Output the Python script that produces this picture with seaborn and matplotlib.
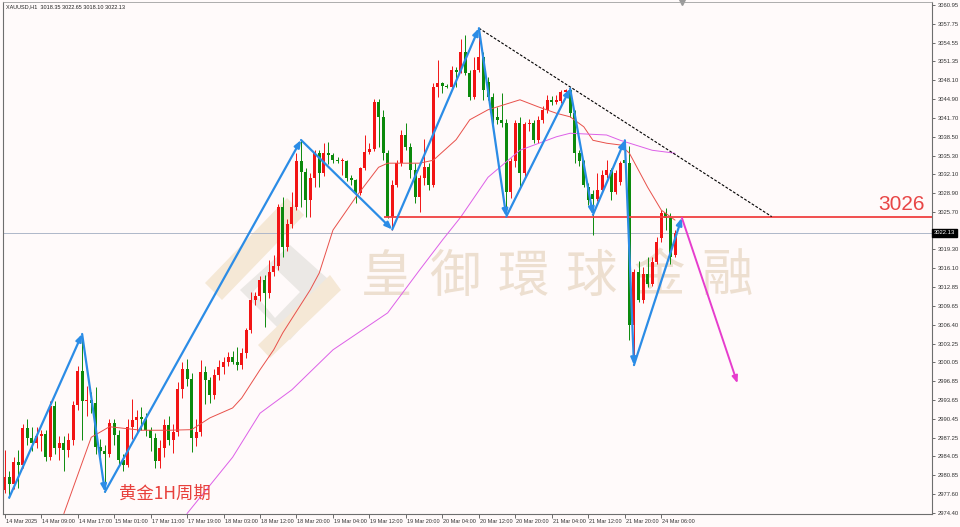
import numpy as np
import pandas as pd
import matplotlib
matplotlib.use("Agg")
import matplotlib.pyplot as plt
import matplotlib.transforms as mtransforms
from matplotlib.patches import Polygon
import seaborn as sns

# DATA  (XAUUSD H1)

opens = [2978.3, 2980.6, 2979.4, 2983.1, 2982.6, 2988.8, 2987.1, 2986.3, 2987.5, 2987.9,
         2984.0, 2992.6, 2985.4, 2986.3, 2985.2, 2986.8, 2992.8, 2998.6, 2993.4, 2993.7,
         2993.2, 2985.7, 2985.0, 2984.4, 2989.7, 2987.7, 2983.4, 2982.6, 2989.0, 2990.2,
         2990.8, 2990.4, 2988.5, 2987.1, 2983.2, 2985.4, 2989.4, 2986.8, 2988.2, 2995.6,
         2998.9, 2997.3, 2987.1, 2988.2, 2998.5, 2997.0, 2994.5, 2997.9, 2999.3, 3000.2,
         3001.0, 3000.2, 2999.6, 3001.6, 3005.6, 3010.7, 3011.3, 3014.1, 3011.8, 3015.5,
         3016.4, 3026.6, 3019.8, 3023.7, 3026.6, 3034.3, 3032.5, 3027.7, 3031.4, 3035.7,
         3032.3, 3035.7, 3035.4, 3034.6, 3034.3, 3034.4, 3031.4, 3031.1, 3028.9, 3033.1,
         3035.95, 3036.5, 3044.5, 3041.9, 3035.7, 3024.9, 3030.3, 3034.0, 3038.8, 3036.8,
         3032.8, 3028.3, 3031.4, 3033.4, 3030.3, 3047.0, 3047.6, 3047.2, 3047.0, 3049.9,
         3049.6, 3053.0, 3049.3, 3045.3, 3049.9, 3052.1, 3047.9, 3045.3, 3041.9, 3041.3,
         3040.8, 3029.1, 3034.3, 3040.8, 3032.3, 3040.6, 3040.9, 3038.0, 3041.3, 3043.1,
         3044.8, 3044.5, 3044.6, 3046.2, 3046.5, 3042.5, 3035.7, 3034.3, 3029.9, 3028.8,
         3027.9, 3029.4, 3032.0, 3032.8, 3029.1, 3030.8, 3034.5, 3034.0, 3006.4, 3015.5,
         3010.7, 3015.2, 3013.5, 3017.2, 3021.2, 3025.5, 3024.6, 3018.35]
highs = [2985.1, 2981.5, 2984.0, 2985.2, 2989.5, 2990.5, 2989.0, 2989.0, 2988.5, 2988.5,
         2993.5, 2993.4, 2987.5, 2987.5, 2988.0, 2993.5, 2999.5, 3004.8, 2996.0, 2995.0,
         2995.9, 2987.0, 2986.0, 2990.5, 2990.5, 2988.5, 2984.5, 2990.5, 2993.8, 2992.0,
         2992.5, 2991.5, 2989.0, 2988.0, 2986.8, 2990.5, 2991.0, 2989.5, 2996.8, 3000.2,
         3000.7, 2998.3, 2990.5, 3000.5, 2999.5, 2997.5, 2999.0, 3000.5, 3001.0, 3001.9,
         3002.0, 3002.7, 3002.5, 3006.0, 3012.1, 3012.0, 3014.7, 3015.0, 3017.5, 3018.3,
         3027.0, 3028.3, 3024.5, 3029.1, 3035.7, 3037.95, 3033.2, 3032.3, 3036.2, 3036.2,
         3037.4, 3037.6, 3035.7, 3035.0, 3034.8, 3034.6, 3032.0, 3031.3, 3033.4, 3038.8,
         3037.4, 3045.0, 3044.9, 3043.0, 3036.3, 3031.2, 3034.5, 3039.6, 3040.8, 3037.4,
         3034.0, 3032.0, 3038.2, 3034.0, 3047.6, 3051.6, 3047.9, 3047.5, 3050.5, 3050.4,
         3055.2, 3055.8, 3049.8, 3052.1, 3057.0, 3053.0, 3048.7, 3046.0, 3043.5, 3045.9,
         3041.5, 3034.8, 3041.4, 3041.9, 3041.0, 3041.5, 3041.3, 3042.0, 3043.8, 3045.6,
         3045.4, 3045.6, 3046.5, 3046.6, 3046.7, 3043.0, 3036.2, 3034.6, 3030.6, 3029.5,
         3032.3, 3032.8, 3034.5, 3033.2, 3032.8, 3034.3, 3037.9, 3037.0, 3016.0, 3017.4,
         3016.3, 3018.1, 3018.1, 3021.5, 3026.0, 3026.3, 3025.5, 3022.65]
lows = [2977.8, 2977.0, 2978.5, 2978.6, 2982.0, 2986.0, 2985.0, 2985.5, 2985.0, 2983.2,
        2983.5, 2984.5, 2983.5, 2981.5, 2984.0, 2986.0, 2992.0, 2986.8, 2991.0, 2991.5,
        2984.5, 2983.0, 2978.0, 2984.0, 2986.0, 2982.8, 2981.5, 2982.3, 2987.0, 2988.0,
        2988.5, 2987.5, 2985.0, 2982.0, 2982.0, 2984.0, 2986.0, 2984.6, 2987.5, 2994.0,
        2996.0, 2984.8, 2985.8, 2987.5, 2993.0, 2993.1, 2993.9, 2997.0, 2998.0, 2999.5,
        2999.8, 2998.8, 2999.0, 3000.8, 3005.0, 3009.8, 3010.5, 3006.1, 3011.0, 3014.8,
        3015.8, 3018.1, 3019.0, 3023.0, 3026.0, 3026.6, 3024.9, 3024.9, 3030.0, 3030.0,
        3031.8, 3033.9, 3034.0, 3034.0, 3032.0, 3031.0, 3030.3, 3027.2, 3028.5, 3032.8,
        3035.5, 3036.0, 3036.8, 3034.5, 3024.6, 3022.7, 3029.9, 3033.5, 3036.3, 3031.5,
        3027.2, 3025.7, 3030.3, 3029.4, 3030.0, 3045.3, 3045.9, 3046.8, 3046.8, 3047.0,
        3049.3, 3049.0, 3044.7, 3045.0, 3049.5, 3044.8, 3044.8, 3040.6, 3040.7, 3040.2,
        3024.9, 3028.0, 3033.4, 3030.0, 3031.5, 3039.5, 3037.4, 3037.5, 3040.8, 3042.6,
        3043.9, 3044.0, 3044.2, 3045.5, 3041.8, 3034.0, 3033.5, 3029.9, 3026.9, 3021.8,
        3027.5, 3029.0, 3031.5, 3027.7, 3028.8, 3030.2, 3033.6, 3003.9, 2999.6, 3010.4,
        3010.2, 3012.9, 3013.0, 3016.9, 3020.5, 3022.6, 3016.9, 3018.10]
closes = [2980.6, 2979.4, 2983.1, 2982.6, 2988.8, 2987.1, 2986.3, 2987.5, 2987.9, 2984.0,
          2992.6, 2985.4, 2986.3, 2985.2, 2986.8, 2992.8, 2998.6, 2993.4, 2993.7, 2993.2,
          2985.7, 2985.0, 2984.4, 2989.7, 2987.7, 2983.4, 2982.6, 2989.0, 2990.2, 2990.8,
          2990.4, 2988.5, 2987.1, 2983.2, 2985.4, 2989.4, 2986.8, 2988.2, 2995.6, 2998.9,
          2997.3, 2987.1, 2988.2, 2998.5, 2997.0, 2994.5, 2997.9, 2999.3, 3000.2, 3001.0,
          3000.2, 2999.6, 3001.6, 3005.6, 3010.7, 3011.3, 3014.1, 3011.8, 3015.5, 3016.4,
          3026.6, 3019.8, 3023.7, 3026.6, 3034.3, 3032.5, 3027.7, 3031.4, 3035.7, 3032.3,
          3035.7, 3035.4, 3034.6, 3034.3, 3034.4, 3031.4, 3031.1, 3028.9, 3033.1, 3035.95,
          3036.5, 3044.5, 3041.9, 3035.7, 3024.9, 3030.3, 3034.0, 3038.8, 3036.8, 3032.8,
          3028.3, 3031.4, 3033.4, 3030.3, 3047.0, 3047.6, 3047.2, 3047.0, 3049.9, 3049.6,
          3053.0, 3049.3, 3045.3, 3049.9, 3052.1, 3046.5, 3045.3, 3041.9, 3041.3, 3040.8,
          3029.1, 3034.3, 3040.8, 3032.3, 3040.6, 3040.9, 3038.0, 3041.3, 3043.1, 3044.8,
          3044.5, 3044.6, 3046.2, 3046.5, 3042.5, 3035.7, 3034.3, 3030.3, 3027.7, 3027.9,
          3029.4, 3032.0, 3032.8, 3029.1, 3032.3, 3034.0, 3034.0, 3006.4, 3015.5, 3010.7,
          3015.2, 3013.5, 3017.2, 3020.6, 3025.5, 3024.6, 3018.1, 3022.13]

# moving averages (red = fast, magenta = slow), read at these bars
ma_fast_bar = [13, 19, 23, 30, 36, 41, 45, 50, 52, 56, 59, 61, 67, 69, 72, 77, 82, 84, 91,
               94, 99, 102, 106, 113, 117, 121, 124, 127, 129, 132, 135, 137, 141, 144, 147]
ma_fast_val = [2974.3, 2987.3, 2989.1, 2988.5, 2988.5, 2988.6, 2990.6, 2992.3, 2994.0, 2998.8,
               3002.2, 3005.1, 3012.4, 3015.3, 3022.6, 3028.2, 3033.3, 3034.0, 3034.0, 3034.5,
               3038.0, 3041.4, 3043.1, 3044.8, 3043.6, 3042.5, 3041.9, 3040.2, 3037.9, 3037.4,
               3037.1, 3035.7, 3029.9, 3026.0, 3024.3]
ma_slow_bar = [40, 50, 56, 63, 72, 84, 91, 96, 100, 106, 113, 121, 124, 132, 135, 142, 147]
ma_slow_val = [2974.3, 2983.9, 2991.4, 2995.4, 3002.2, 3008.5, 3015.8, 3020.9, 3024.8,
               3031.6, 3036.2, 3038.5, 3039.1, 3038.8, 3037.9, 3036.2, 3035.7]

# hand drawn objects
zz_bar = [1, 17, 22, 65, 85, 104, 110, 124, 129, 136, 138, 148.5]
zz_val = [2977.0, 3004.9, 2978.0, 3037.95, 3022.7, 3057.0, 3024.9, 3046.7, 3025.2, 3037.9,
          2999.6, 3024.7]
trend_bar = [104, 168.2]
trend_val = [3057.0, 3024.9]
proj_bar = [148.5, 160.7]
proj_val = [3024.7, 2996.5]
level_val = 3024.9
level_start = 83.3
last_price = 3022.13

xtick_bars = [0, 8, 16, 24, 32, 40, 48, 56, 64, 72, 80, 88, 96, 104, 112, 120, 128, 136, 144]
xtick_labels = ["14 Mar 2025", "14 Mar 09:00", "14 Mar 17:00", "15 Mar 01:00", "17 Mar 11:00",
                "17 Mar 19:00", "18 Mar 03:00", "18 Mar 12:00", "18 Mar 20:00", "19 Mar 04:00",
                "19 Mar 12:00", "19 Mar 20:00", "20 Mar 04:00", "20 Mar 12:00", "20 Mar 20:00",
                "21 Mar 04:00", "21 Mar 12:00", "21 Mar 20:00", "24 Mar 06:00"]
ytick_labels = ["3060.95", "3057.75", "3054.55", "3051.35", "3048.10", "3044.90", "3041.70",
                "3038.50", "3035.30", "3032.10", "3028.90", "3025.70", "3019.30", "3016.10",
                "3012.85", "3009.65", "3006.40", "3003.25", "3000.05", "2996.85", "2993.65",
                "2990.45", "2987.25", "2984.05", "2980.85", "2977.60", "2974.40"]

# PLOT

sns.set_theme(style="white")
plt.rcParams['font.family'] = ['Liberation Sans', 'DejaVu Sans']

BG = '#fffafa'
UP = '#f21414'
DOWN = '#0c8a0c'
BLUE = '#2b8ce6'

W, H = 960, 527
fig = plt.figure(figsize=(9.6, 5.27), dpi=100, facecolor=BG)
ax = fig.add_axes([3 / W, 13 / H, 929 / W, 512 / H])
ax.set_facecolor(BG)
ax.set_xlim(-0.35, 203.35)
ax.set_ylim(2974.23, 3061.46)


def px(x, y):
    return (x / W, 1 - y / H)


# watermark logo + text
for pts, col in [([(205, 283), (287, 198), (304, 215), (222, 300)], '#f5e8d6'),
                 ([(240, 290), (290, 245), (337, 287), (290, 340)], '#ebe8e5'),
                 ([(253, 292), (275, 268), (300, 292), (275, 318)], BG),
                 ([(258, 345), (330, 275), (341, 290), (270, 358)], '#f5e8d6')]:
    ax.add_patch(Polygon([px(*p) for p in pts], closed=True, transform=fig.transFigure,
                         fc=col, ec='none', zorder=0.3))
for i, ch in enumerate("皇御環球金融"):
    ax.text(*px(387 + 68 * i, 277), ch, transform=fig.transFigure, ha='center', va='center',
            fontsize=37, color='#eddfd0', family=['Noto Sans CJK TC'], zorder=0.4)

# candles
df = pd.DataFrame({'o': opens, 'h': highs, 'l': lows, 'c': closes})
df['bar'] = np.arange(len(df))
up = df['c'] >= df['o']
cols = np.where(up, UP, DOWN)
ax.vlines(df['bar'], df['l'], df['h'], colors=cols, lw=0.7, zorder=2)
body = (df['c'] - df['o']).abs().clip(lower=0.18)
ax.bar(df['bar'], body, bottom=np.minimum(df['o'], df['c']), width=0.66, color=cols,
       lw=0, zorder=2.5)

# moving averages
sns.lineplot(x=ma_fast_bar, y=ma_fast_val, color='#e8504a', lw=0.7, ax=ax, zorder=3)
sns.lineplot(x=ma_slow_bar, y=ma_slow_val, color='#dd5fe8', lw=0.7, ax=ax, zorder=3)

# lines
ax.axhline(last_price, color='#aeb7c9', lw=0.7, zorder=1.5)
ax.hlines(level_val, level_start, ax.get_xlim()[1], color='#f04040', lw=1.3, zorder=3.5)
ax.plot(trend_bar, trend_val, color='black', lw=0.8, ls=(0, (2.5, 1.5)), zorder=3.5)

for i in range(len(zz_bar) - 1):
    ax.annotate('', xy=(zz_bar[i + 1], zz_val[i + 1]), xytext=(zz_bar[i], zz_val[i]),
                arrowprops=dict(arrowstyle='-|>,head_length=0.35,head_width=0.14', color=BLUE,
                                lw=1.6, shrinkA=0, shrinkB=0), zorder=4)
ax.annotate('', xy=(proj_bar[1], proj_val[1]), xytext=(proj_bar[0], proj_val[0]),
            arrowprops=dict(arrowstyle='-|>,head_length=0.35,head_width=0.14', color='#e63ccd',
                            lw=1.4, shrinkA=0, shrinkB=0), zorder=4)

# texts
ax.text(*px(925, 210), "3026", transform=fig.transFigure, ha='right', va='baseline',
        fontsize=15, color='#e84646', zorder=5)
ax.text(*px(119, 494), "黄金1H周期", transform=fig.transFigure, ha='left', va='center',
        fontsize=12.5, color='#e8403c', family=['Noto Sans CJK SC', 'DejaVu Sans'], zorder=5)
ax.text(*px(6, 7), "XAUUSD,H1  3018.35 3022.65 3018.10 3022.13", transform=fig.transFigure,
        ha='left', va='center', fontsize=4, color='#222222', zorder=5)

# axes styling
ax.yaxis.tick_right()
ax.set_yticks([float(v) for v in ytick_labels])
ax.set_yticklabels(ytick_labels)
ax.set_xticks(xtick_bars)
ax.set_xticklabels(xtick_labels)
ax.tick_params(axis='y', length=2.5, width=0.5, pad=1.5, labelsize=4.2, colors='#333333',
               right=True, left=False)
ax.tick_params(axis='x', length=3, width=0.5, pad=0.5, labelsize=4, colors='#333333',
               bottom=True)
offset = mtransforms.ScaledTranslation(1 / 100, 0, fig.dpi_scale_trans)
for lbl in ax.get_xticklabels():
    lbl.set_ha('left')
    lbl.set_transform(lbl.get_transform() + offset)
for s in ['left', 'bottom', 'right']:
    ax.spines[s].set_color('#6e6e6e')
    ax.spines[s].set_linewidth(0.8)
ax.spines['top'].set_color('#a0a0a0')
ax.spines['top'].set_linewidth(0.6)
ax.grid(False)

ax.text(1.002, last_price, f"{last_price:.2f}",
        transform=mtransforms.blended_transform_factory(ax.transAxes, ax.transData),
        ha='left', va='center', fontsize=4.2, color='white',
        bbox=dict(boxstyle='square,pad=0.25', fc='black', ec='black'))
ax.plot([148.5], [1.0], marker='v', ms=4, color='#9a9a9a',
        transform=mtransforms.blended_transform_factory(ax.transData, ax.transAxes),
        clip_on=False)

fig.savefig("out.png", dpi=100, facecolor=BG)
